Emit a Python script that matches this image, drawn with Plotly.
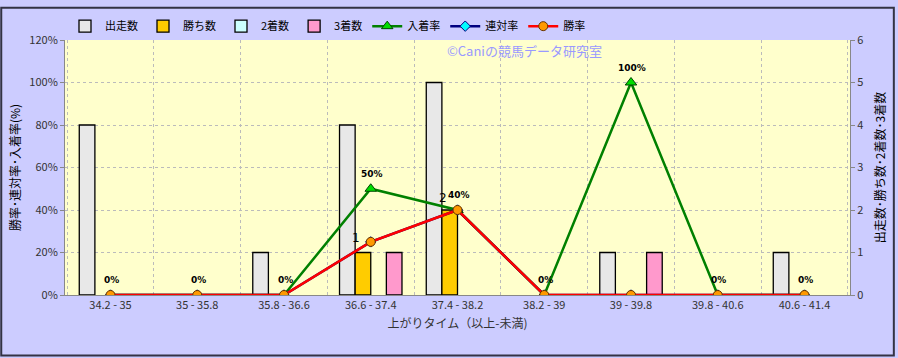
import plotly.graph_objects as go

categories = ["34.2 - 35", "35 - 35.8", "35.8 - 36.6", "36.6 - 37.4", "37.4 - 38.2",
              "38.2 - 39", "39 - 39.8", "39.8 - 40.6", "40.6 - 41.4"]
starts = [4, 0, 1, 4, 5, 0, 1, 0, 1]
wins = [0, 0, 0, 1, 2, 0, 0, 0, 0]
seconds = [0, 0, 0, 0, 0, 0, 0, 0, 0]
thirds = [0, 0, 0, 1, 0, 0, 1, 0, 0]
place_rate = [0, 0, 0, 50, 40, 0, 100, 0, 0]
rentai_rate = [0, 0, 0, 25, 40, 0, 0, 0, 0]
win_rate = [0, 0, 0, 25, 40, 0, 0, 0, 0]
place_labels = ["0%", "0%", "0%", "50%", "40%", "0%", "100%", "0%", "0%"]
win_labels = ["", "", "", "1", "2", "", "", "", ""]

FONT = "Noto Sans CJK JP"
W, H = 898, 358
ML, MR, MT, MB = 65, 45, 34, 63
PW, PH = W - ML - MR, H - MT - MB

fig = go.Figure()
bar_specs = [("出走数", starts, "#E8E8E8"), ("勝ち数", wins, "#FFCC00"),
             ("2着数", seconds, "#CCFFFF"), ("3着数", thirds, "#FF99CC")]
for name, vals, col in bar_specs:
    fig.add_trace(go.Bar(x=categories, y=[v if v > 0 else None for v in vals], name=name, yaxis="y",
                         marker=dict(color=col, line=dict(color="#000000", width=1.3))))

fig.add_trace(go.Scatter(x=categories, y=place_rate, name="入着率", yaxis="y2",
                         mode="lines+markers",
                         line=dict(color="#008000", width=2.5),
                         marker=dict(symbol="triangle-up", size=10, color="#00DD00",
                                     line=dict(color="#004400", width=1))))
fig.add_trace(go.Scatter(x=categories, y=rentai_rate, name="連対率", yaxis="y2",
                         mode="lines+markers",
                         line=dict(color="#000080", width=2.5),
                         marker=dict(symbol="diamond", size=8, color="#00FFFF",
                                     line=dict(color="#000080", width=1))))
fig.add_trace(go.Scatter(x=categories, y=win_rate, name="勝率", yaxis="y2",
                         mode="lines+markers",
                         line=dict(color="#FF0000", width=2.5),
                         marker=dict(symbol="circle", size=9, color="#FF9900",
                                     line=dict(color="#663300", width=1))))

for cat, val, lab in zip(categories, place_rate, place_labels):
    fig.add_annotation(x=cat, y=val, xref="x", yref="y2", text="<b>" + lab + "</b>",
                       showarrow=False, yshift=15, xshift=1,
                       font=dict(size=9, color="#000000", family="DejaVu Sans"))

for cat, val, lab in zip(categories, win_rate, win_labels):
    if lab:
        fig.add_annotation(x=cat, y=val, xref="x", yref="y2", text=lab, showarrow=False,
                           xshift=-15, yshift=4 if val < 30 else 12,
                           font=dict(size=12, color="#000000", family="DejaVu Sans"))

fig.add_annotation(text="©Caniの競馬データ研究室", x=0.585, y=1 - (45 - MT) / PH,
                   xref="paper", yref="paper", yanchor="middle",
                   showarrow=False, font=dict(family=FONT, size=13, color="#9999FF"))

fig.add_shape(type="rect", xref="paper", yref="paper",
              x0=-(ML - 1) / PW, x1=1 + (MR - 1) / PW,
              y0=-(MB - 1) / PH, y1=1 + (MT - 1) / PH,
              line=dict(color="#333344", width=2), layer="above")

fig.update_layout(
    width=W, height=H,
    margin=dict(l=ML, r=MR, t=MT, b=MB),
    paper_bgcolor="#CCCCFF", plot_bgcolor="#FFFFCC",
    font=dict(family=FONT, size=11, color="#333333"),
    barmode="group", bargap=0.28, bargroupgap=0,
    showlegend=True,
    legend=dict(orientation="h", x=0.0, y=1 + (MT - 5) / PH, xanchor="left", yanchor="top",
                bgcolor="rgba(0,0,0,0)", font=dict(size=11, color="#000000", family=FONT),
                itemwidth=30, traceorder="normal"),
    xaxis=dict(tickson="boundaries", showgrid=True, gridcolor="#BBBBBB", griddash="dot",
               showline=True, linecolor="#888888", ticks="",
               tickfont=dict(size=11, color="#333333"),
               title=dict(text="上がりタイム（以上-未満)", font=dict(size=12, color="#333333"), standoff=8)),
    yaxis=dict(side="right", range=[0, 6], dtick=1, showgrid=True, gridcolor="#BBBBBB",
               griddash="dot", showline=True, linecolor="#888888", ticks="outside", ticklen=4,
               tickcolor="#888888", zeroline=False, tickfont=dict(size=11, color="#333333"),
               title=dict(text="出走数･勝ち数･2着数･3着数", font=dict(size=12, color="#000000"), standoff=14)),
    yaxis2=dict(side="left", overlaying="y", range=[0, 120], dtick=20, ticksuffix="%",
                showgrid=False, showline=True, linecolor="#888888", ticks="outside", ticklen=4,
                tickcolor="#888888", zeroline=False, tickfont=dict(size=11, color="#333333"),
                title=dict(text="勝率･連対率･入着率(%)", font=dict(size=12, color="#000000"), standoff=6)),
)

fig.write_html("out.html")
